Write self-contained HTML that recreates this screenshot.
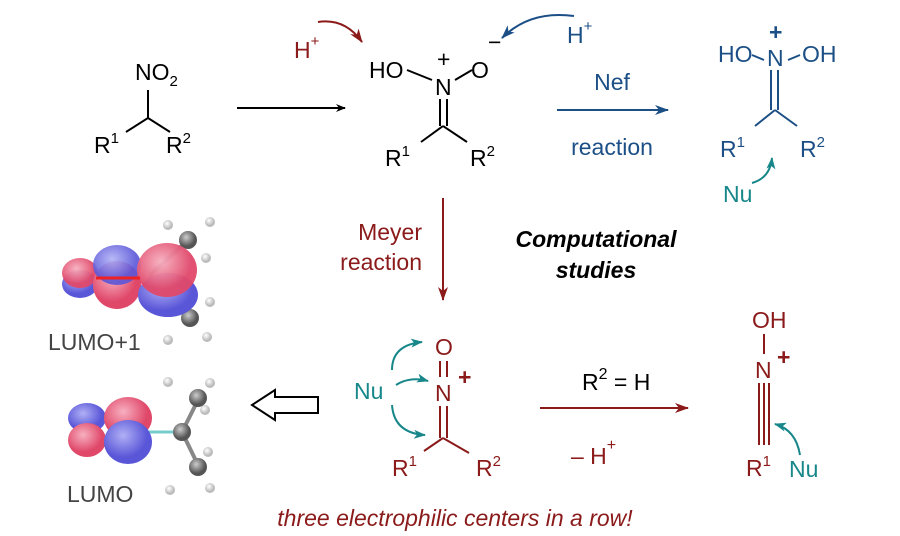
<!DOCTYPE html>
<html><head><meta charset="utf-8"><style>
body{margin:0;background:#fff}
svg{display:block}
text{font-family:"Liberation Sans",sans-serif;font-size:23px}
.r{fill:#8b1a1a}.b{fill:#1b4f86}.t{fill:#17878a}
</style></head><body>
<svg width="900" height="536" viewBox="0 0 900 536" xmlns="http://www.w3.org/2000/svg">
<defs>
<marker id="ak" markerWidth="10" markerHeight="8" refX="9" refY="4" orient="auto" markerUnits="userSpaceOnUse"><path d="M0,0L10,4L0,8L3,4z" fill="#000"/></marker>
<marker id="ar" markerWidth="14" markerHeight="10" refX="13" refY="5" orient="auto" markerUnits="userSpaceOnUse"><path d="M0,0L14,5L0,10L4,5z" fill="#8b1a1a"/></marker>
<marker id="ab" markerWidth="14" markerHeight="10" refX="13" refY="5" orient="auto" markerUnits="userSpaceOnUse"><path d="M0,0L14,5L0,10L4,5z" fill="#1b4f86"/></marker>
<marker id="at" markerWidth="12" markerHeight="9" refX="11" refY="4.5" orient="auto" markerUnits="userSpaceOnUse"><path d="M0,0L12,4.5L0,9L3,4.5z" fill="#17878a"/></marker>
<radialGradient id="pk" cx="40%" cy="35%"><stop offset="0" stop-color="#f7b0c0"/><stop offset="1" stop-color="#e0486a"/></radialGradient>
<radialGradient id="bl" cx="40%" cy="35%"><stop offset="0" stop-color="#b0b0f5"/><stop offset="1" stop-color="#5a56d8"/></radialGradient>
<radialGradient id="gr" cx="40%" cy="35%"><stop offset="0" stop-color="#ccc"/><stop offset="1" stop-color="#555"/></radialGradient>
<radialGradient id="wh" cx="40%" cy="35%"><stop offset="0" stop-color="#fff"/><stop offset="1" stop-color="#bbb"/></radialGradient>
</defs>

<!-- nitro compound -->
<text x="135" y="80">NO<tspan font-size="15" dy="6">2</tspan></text>
<path d="M148,90V118L126,132M148,118L170,132" stroke="#000" stroke-width="2" fill="none"/>
<text x="94" y="153">R<tspan font-size="15" dy="-10">1</tspan></text>
<text x="166" y="153">R<tspan font-size="15" dy="-10">2</tspan></text>
<line x1="237" y1="108" x2="345" y2="108" stroke="#000" stroke-width="2" marker-end="url(#ak)"/>

<!-- nitronate -->
<text class="r" x="294" y="58">H<tspan font-size="15" dy="-12">+</tspan></text>
<path d="M318,22Q345,18 362,42" stroke="#8b1a1a" stroke-width="2" fill="none" marker-end="url(#ar)"/>
<text class="b" x="567" y="43">H<tspan font-size="15" dy="-12">+</tspan></text>
<path d="M574,16Q530,10 502,38" stroke="#1b4f86" stroke-width="2" fill="none" marker-end="url(#ab)"/>
<text x="369" y="78">HO</text>
<text x="435" y="95">N</text>
<text x="437" y="67" font-size="16">+</text>
<text x="471" y="78">O</text>
<text x="488" y="50" font-size="18">−</text>
<path d="M407,70L432,80M455,80L472,70M440,99V126M447,99V126M443,126L421,142M443,126L467,142" stroke="#000" stroke-width="2" fill="none"/>
<text x="385" y="166">R<tspan font-size="15" dy="-10">1</tspan></text>
<text x="470" y="166">R<tspan font-size="15" dy="-10">2</tspan></text>

<!-- Nef -->
<text class="b" x="612" y="90" text-anchor="middle">Nef</text>
<text class="b" x="612" y="155" text-anchor="middle">reaction</text>
<line x1="557" y1="110" x2="668" y2="110" stroke="#1b4f86" stroke-width="2" marker-end="url(#ab)"/>
<text class="b" x="718" y="62">HO</text>
<text class="b" x="767" y="66">N</text>
<text class="b" x="769" y="40" font-size="16" font-weight="bold">+</text>
<text class="b" x="802" y="62">OH</text>
<path d="M752,55L764,60M788,60L800,55M771,70V110M778,70V110M775,110L755,126M775,110L797,126" stroke="#1b4f86" stroke-width="2" fill="none"/>
<text class="b" x="720" y="157">R<tspan font-size="15" dy="-10">1</tspan></text>
<text class="b" x="800" y="157">R<tspan font-size="15" dy="-10">2</tspan></text>
<text class="t" x="723" y="202">Nu</text>
<path d="M752,183Q770,178 772,158" stroke="#17878a" stroke-width="2" fill="none" marker-end="url(#at)"/>

<!-- Meyer -->
<text class="r" x="422" y="240" text-anchor="end">Meyer</text>
<text class="r" x="422" y="270" text-anchor="end">reaction</text>
<line x1="443" y1="198" x2="443" y2="300" stroke="#8b1a1a" stroke-width="2" marker-end="url(#ar)"/>
<text x="596" y="247" text-anchor="middle" font-weight="bold" font-style="italic">Computational</text>
<text x="596" y="278" text-anchor="middle" font-weight="bold" font-style="italic">studies</text>

<!-- nitrosonium -->
<text class="r" x="435" y="355">O</text>
<text class="r" x="435" y="401">N</text>
<text class="r" x="458" y="385" font-size="18" font-weight="bold">+</text>
<path d="M440,361V377M447,361V377M440,406V438M447,406V438M443,438L424,451M443,438L469,453" stroke="#8b1a1a" stroke-width="2" fill="none"/>
<text class="r" x="392" y="476">R<tspan font-size="15" dy="-10">1</tspan></text>
<text class="r" x="476" y="476">R<tspan font-size="15" dy="-10">2</tspan></text>
<text class="t" x="354" y="399">Nu</text>
<path d="M392,370Q392,345 422,342" stroke="#17878a" stroke-width="2" fill="none" marker-end="url(#at)"/>
<path d="M396,385Q410,376 428,381" stroke="#17878a" stroke-width="2" fill="none" marker-end="url(#at)"/>
<path d="M392,405Q394,433 425,435" stroke="#17878a" stroke-width="2" fill="none" marker-end="url(#at)"/>

<text x="582" y="390" font-size="24">R<tspan font-size="16" dy="-11">2</tspan><tspan dy="11"> = H</tspan></text>
<line x1="540" y1="408" x2="688" y2="408" stroke="#8b1a1a" stroke-width="2" marker-end="url(#ar)"/>
<text class="r" x="571" y="464" font-size="24">– H<tspan font-size="16" dy="-14">+</tspan></text>

<!-- nitrile oxide -->
<text class="r" x="752" y="328">OH</text>
<text class="r" x="755" y="378">N</text>
<text class="r" x="777" y="365" font-size="18" font-weight="bold">+</text>
<path d="M764,334V354M759,383V445M764,383V445M769,383V445" stroke="#8b1a1a" stroke-width="2" fill="none"/>
<text class="r" x="746" y="476">R<tspan font-size="15" dy="-10">1</tspan></text>
<text class="t" x="789" y="477">Nu</text>
<path d="M800,455Q796,430 775,424" stroke="#17878a" stroke-width="2" fill="none" marker-end="url(#at)"/>

<!-- hollow arrow -->
<path d="M318,397H275V390L252,405L275,420V413H318Z" fill="#fff" stroke="#000" stroke-width="2"/>

<!-- LUMO+1 -->
<g>
<line x1="150" y1="275" x2="188" y2="240" stroke="#888" stroke-width="4"/>
<line x1="150" y1="275" x2="190" y2="318" stroke="#888" stroke-width="4"/>
<circle cx="168" cy="225" r="5" fill="url(#wh)"/><circle cx="210" cy="222" r="5" fill="url(#wh)"/><circle cx="206" cy="258" r="5" fill="url(#wh)"/><circle cx="188" cy="240" r="9" fill="url(#gr)"/>
<circle cx="210" cy="302" r="5" fill="url(#wh)"/><circle cx="207" cy="337" r="5" fill="url(#wh)"/><circle cx="168" cy="340" r="5" fill="url(#wh)"/><circle cx="190" cy="318" r="9" fill="url(#gr)"/>
<ellipse cx="80" cy="284" rx="18" ry="14" fill="url(#bl)"/>
<ellipse cx="80" cy="273" rx="18" ry="15" fill="url(#pk)" opacity="0.95"/>
<ellipse cx="117" cy="285" rx="24" ry="24" fill="url(#pk)"/>
<ellipse cx="117" cy="265" rx="24" ry="20" fill="url(#bl)" opacity="0.9"/>
<ellipse cx="168" cy="295" rx="30" ry="22" fill="url(#bl)"/>
<ellipse cx="167" cy="270" rx="30" ry="27" fill="url(#pk)" opacity="0.95"/>
<line x1="96" y1="278" x2="140" y2="278" stroke="#e22" stroke-width="3"/>
<text x="48" y="350" font-size="20" fill="#444">LUMO+1</text>
</g>
<!-- LUMO -->
<g>
<line x1="130" y1="432" x2="182" y2="432" stroke="#7cc" stroke-width="3"/>
<line x1="182" y1="432" x2="198" y2="400" stroke="#888" stroke-width="4"/>
<line x1="182" y1="432" x2="198" y2="465" stroke="#888" stroke-width="4"/>
<circle cx="168" cy="382" r="5" fill="url(#wh)"/><circle cx="210" cy="383" r="5" fill="url(#wh)"/><circle cx="205" cy="410" r="5" fill="url(#wh)"/><circle cx="198" cy="398" r="9" fill="url(#gr)"/>
<circle cx="208" cy="452" r="5" fill="url(#wh)"/><circle cx="210" cy="488" r="5" fill="url(#wh)"/><circle cx="170" cy="490" r="5" fill="url(#wh)"/><circle cx="198" cy="467" r="9" fill="url(#gr)"/>
<circle cx="182" cy="432" r="9" fill="url(#gr)"/>
<ellipse cx="87" cy="418" rx="19" ry="15" fill="url(#bl)"/>
<ellipse cx="87" cy="440" rx="19" ry="17" fill="url(#pk)"/>
<ellipse cx="128" cy="418" rx="24" ry="21" fill="url(#pk)"/>
<ellipse cx="128" cy="442" rx="24" ry="22" fill="url(#bl)"/>
<text x="67" y="502" font-size="20" fill="#444">LUMO</text>
</g>

<text class="r" x="455" y="526" text-anchor="middle" font-size="22" font-style="italic">three electrophilic centers in a row!</text>
</svg>
</body></html>
